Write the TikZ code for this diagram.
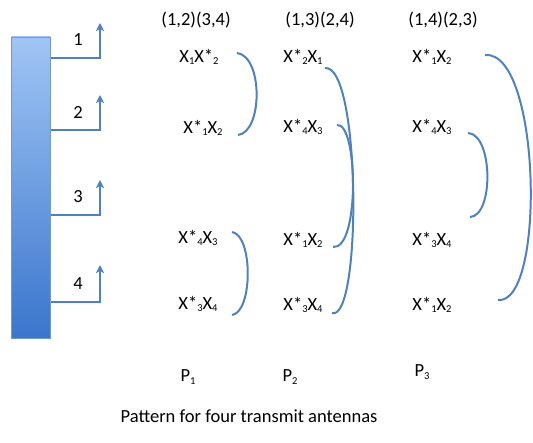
\documentclass[tikz,border=0pt]{standalone}
\usepackage{fontspec}
\setmainfont{Carlito}
\usetikzlibrary{arrows.meta,positioning}
\definecolor{antblue}{RGB}{79,129,189}
\definecolor{bartop}{RGB}{160,197,245}
\definecolor{barbot}{RGB}{58,118,204}
\newcommand\sbs[1]{\raisebox{-0.25ex}{\fontsize{9}{9}\selectfont#1}}
\begin{document}
\begin{tikzpicture}[x=0.03cm, y=-0.03cm, >={Stealth[length=7pt,width=7pt,inset=2pt]},
   font=\fontsize{15.8}{18}\selectfont,
   bar/.style={draw=antblue!80, line width=0.5pt, top color=bartop,
               bottom color=barbot, minimum width=1.17cm, minimum height=9.03cm,
               inner sep=0pt},
   feed/.style={draw=antblue, line width=1.7pt, ->},
   pair/.style={draw=antblue, line width=1.7pt},
   sym/.style={inner sep=1pt}]
  \useasboundingbox (0,0) rectangle (533,442);
  % antenna array
  \node[bar] (bar) at (31,187.5) {};
  \foreach \i/\y/\t in {1/58/23, 2/130/95, 3/215/180, 4/302/265}{
    \coordinate (tip\i) at (100,\t);
    \draw[feed] (bar.east |- 0,\y) -| (tip\i);
    \node (lab\i) at (78,\y-18) {\i};
  }
  % headers
  \node (h1) at (196,20) {(1,2)(3,4)};
  \node (h2) at (320,20) {(1,3)(2,4)};
  \node (h3) at (443,20) {(1,4)(2,3)};
  % P1
  \node[sym] (a1) at (199,57)  {X\sbs{1}X*\sbs{2}};
  \node[sym] (a2) at (203,128) {X*\sbs{1}X\sbs{2}};
  \node[sym] (a3) at (198,238) {X*\sbs{4}X\sbs{3}};
  \node[sym] (a4) at (198,304) {X*\sbs{3}X\sbs{4}};
  % P2
  \node[sym] (b1) at (303,57)  {X*\sbs{2}X\sbs{1}};
  \node[sym] (b2) at (303,127) {X*\sbs{4}X\sbs{3}};
  \node[sym] (b3) at (303,240) {X*\sbs{1}X\sbs{2}};
  \node[sym] (b4) at (303,305) {X*\sbs{3}X\sbs{4}};
  % P3
  \node[sym] (c1) at (432,57)  {X*\sbs{1}X\sbs{2}};
  \node[sym] (c2) at (432,127) {X*\sbs{4}X\sbs{3}};
  \node[sym] (c3) at (432,240) {X*\sbs{3}X\sbs{4}};
  \node[sym] (c4) at (432,305) {X*\sbs{1}X\sbs{2}};
  % pair brackets
  \coordinate (a1e) at (237,53);  \coordinate (a2e) at (238,135);
  \coordinate (a3e) at (232,232); \coordinate (a4e) at (232,315);
  \draw[pair] (a1e) .. controls (263,56) and (263,132) .. (a2e);
  \draw[pair] (a3e) .. controls (253,235) and (253,312) .. (a4e);
  \coordinate (b1e) at (325,68);  \coordinate (b4e) at (332,313);
  \coordinate (b2e) at (337,125); \coordinate (b3e) at (333,247);
  \draw[pair] (b1e) .. controls (361,64) and (362,322) .. (b4e);
  \draw[pair] (b2e) .. controls (358,122) and (360,250) .. (b3e);
  \coordinate (c1e) at (485,55);  \coordinate (c4e) at (498,300);
  \coordinate (c2e) at (468,133); \coordinate (c3e) at (470,217);
  \draw[pair] (c1e) .. controls (541,50) and (546,305) .. (c4e);
  \draw[pair] (c2e) .. controls (493,134) and (494,216) .. (c3e);
  % patterns
  \node (p1) at (188,377) {P\sbs{1}};
  \node (p2) at (290,377) {P\sbs{2}};
  \node (p3) at (422,372) {P\sbs{3}};
  \node (cap) at (249,416) {Pattern for four transmit antennas};
\end{tikzpicture}
\end{document}
